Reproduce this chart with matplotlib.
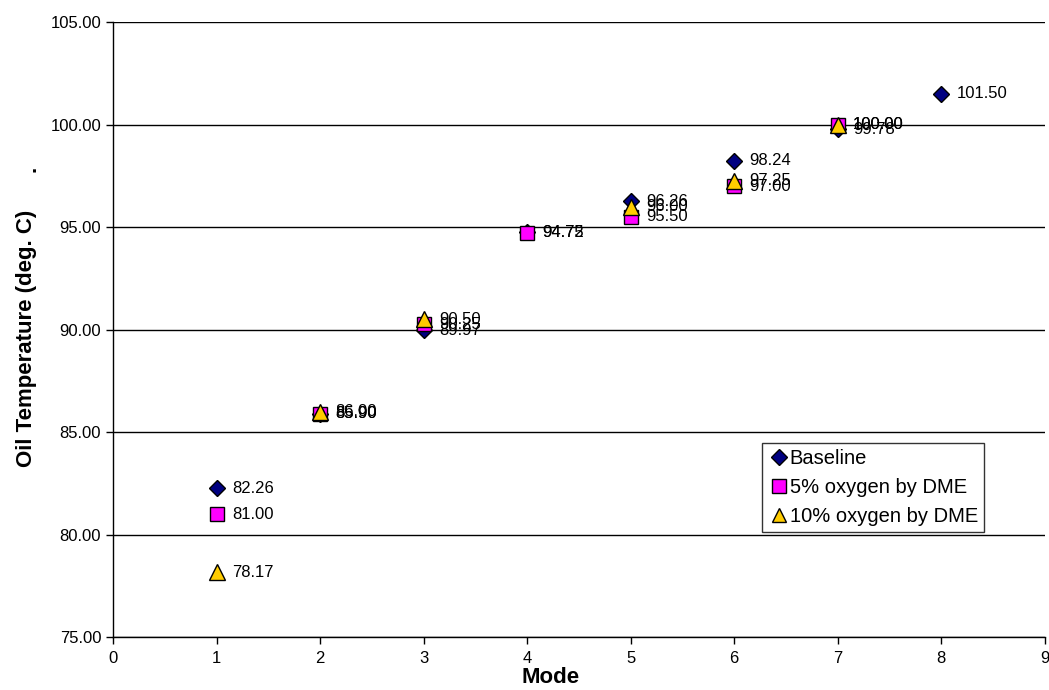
import matplotlib
matplotlib.use("Agg")
import matplotlib.pyplot as plt

plt.rcParams['font.family'] = ['Liberation Sans', 'DejaVu Sans']

baseline_modes = [1, 2, 3, 4, 5, 6, 7, 8]
baseline_vals = [82.26, 85.90, 89.97, 94.75, 96.26, 98.24, 99.78, 101.50]

dme5_modes = [1, 2, 3, 4, 5, 6, 7]
dme5_vals = [81.00, 85.90, 90.25, 94.72, 95.50, 97.00, 100.00]

dme10_modes = [1, 2, 3, 5, 6, 7]
dme10_vals = [78.17, 86.00, 90.50, 96.00, 97.25, 100.00]

series = [
    ("Baseline", baseline_modes, baseline_vals, "D", 8.5, "#000080"),
    ("5% oxygen by DME", dme5_modes, dme5_vals, "s", 10.5, "#FF00FF"),
    ("10% oxygen by DME", dme10_modes, dme10_vals, "^", 11, "#FFCC00"),
]

fig = plt.figure(figsize=(10.49, 6.90), dpi=100)
ax = fig.add_axes([0.1077, 0.0768, 0.8883, 0.8913])

for name, xs, ys, mk, ms, col in series:
    ax.plot(xs, ys, linestyle="none", marker=mk, markersize=ms,
            markerfacecolor=col, markeredgecolor="black", markeredgewidth=1,
            label=name, zorder=3)
    for x, y in zip(xs, ys):
        ax.annotate(f"{y:.2f}", (x, y), xytext=(11, 0), textcoords="offset points",
                    va="center", ha="left", fontsize=12, zorder=4)

ax.set_xlim(0, 9)
ax.set_ylim(75, 105)
ax.set_xticks(range(0, 10))
ax.set_yticks([75, 80, 85, 90, 95, 100, 105])
ax.set_yticklabels([f"{v:.2f}" for v in [75, 80, 85, 90, 95, 100, 105]])
ax.tick_params(axis="both", direction="out", length=5, labelsize=12, width=1)
ax.tick_params(axis="x", pad=5)
ax.yaxis.grid(True, color="black", linewidth=1)
ax.set_axisbelow(True)
for side in ["top", "right"]:
    ax.spines[side].set_visible(False)
for side in ["left", "bottom"]:
    ax.spines[side].set_linewidth(1)

ax.set_xlabel("Mode", fontsize=16, fontweight="bold")
ax.xaxis.set_label_coords(0.47, -0.048)
ax.set_ylabel("Oil Temperature (deg. C)", fontsize=16, fontweight="bold")
ax.yaxis.set_label_coords(-0.081, 0.486)
fig.text(0.029, 0.755, ".", fontsize=16, fontweight="bold", rotation=90,
         ha="center", va="center")

leg = ax.legend(loc="upper left", bbox_to_anchor=(0.697, 0.316), fontsize=14.5,
                frameon=True, fancybox=False, edgecolor="black",
                handletextpad=0.05, handlelength=1.0, borderpad=0.3,
                labelspacing=0.5, borderaxespad=0, markerscale=0.9)
leg.get_frame().set_linewidth(1)

fig.savefig("out.png", dpi=100)
